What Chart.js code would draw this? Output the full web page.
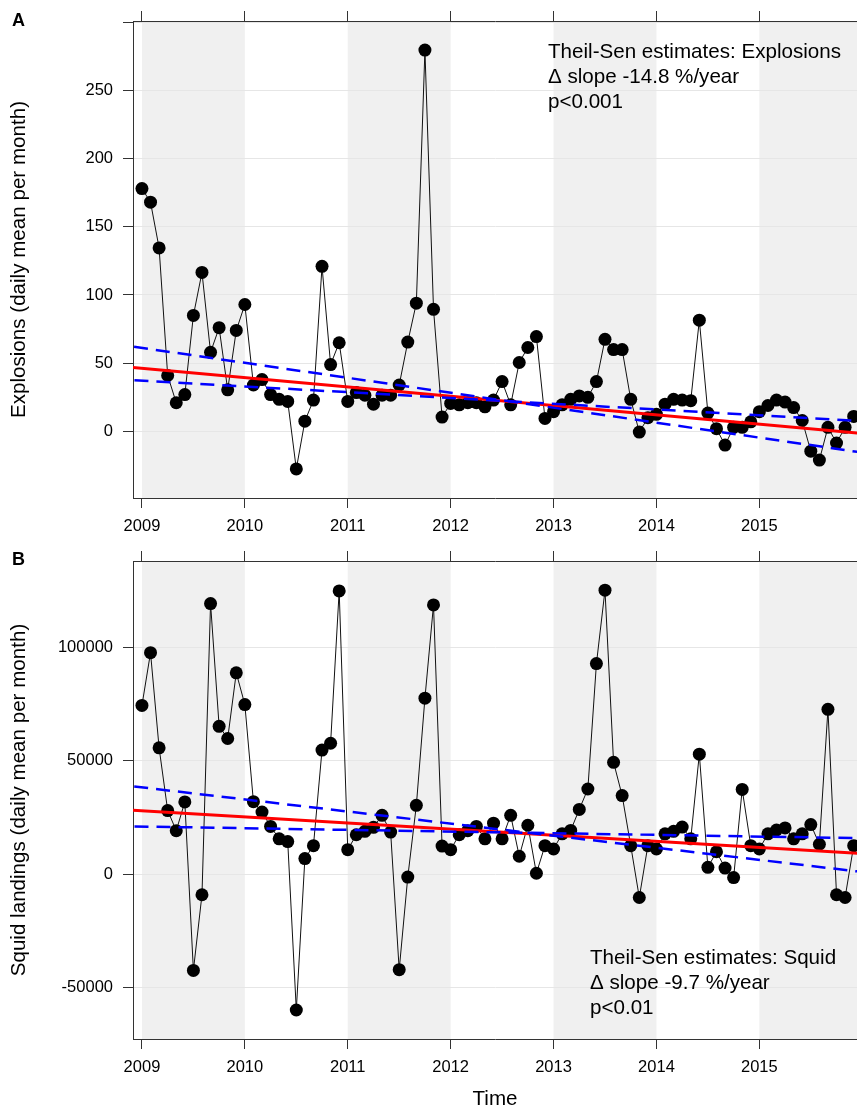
<!DOCTYPE html>
<html>
<head>
<meta charset="utf-8">
<title>Explosions and squid landings</title>
<script src="https://cdn.jsdelivr.net/npm/chart.js@4.4.1/dist/chart.umd.min.js"></script>
<style>
  html, body { margin: 0; padding: 0; background: #fff; }
  body { width: 857px; height: 1109px; position: relative; overflow: hidden; }
  canvas { position: absolute; left: 0; }
  #chartA { top: 0; }
  #chartB { top: 540px; }
</style>
</head>
<body>
<canvas id="chartA" width="857" height="540"></canvas>
<canvas id="chartB" width="857" height="572"></canvas>
<script>
// monthly series, Jan 2009 .. Dec 2015
const startYear = 2009;
const tickYears = [2009, 2010, 2011, 2012, 2013, 2014, 2015];
const shadedYears = [2009, 2011, 2013, 2015];

const explosions = [
  178, 168, 134.5, 41, 21, 27, 85, 116.5, 58, 76, 30.5, 74,
  93, 34, 38, 27, 23.5, 22, -27.5, 7.5, 23, 121, 49, 65,
  22, 28.5, 26.5, 20, 26.5, 26.5, 34, 65.5, 94, 279.5, 89.5, 10.5,
  20.5, 19.5, 21, 21, 18, 23, 36.5, 19.5, 50.5, 61.5, 69.5, 9.5,
  14.5, 19.5, 23.5, 26, 25, 36.5, 67.5, 60, 60, 23.5, -0.5, 10,
  12.5, 20, 23.5, 23, 22.5, 81.5, 13.5, 2, -10, 3, 3, 7,
  14.5, 19, 23, 21.5, 17.5, 8, -14.5, -21, 3, -8.5, 3, 11
];
const squid = [
  74500, 97800, 55800, 28100, 19200, 31900, -42500, -9100, 119500, 65300, 59900, 88900,
  74900, 32000, 27400, 21100, 15600, 14400, -60000, 6900, 12600, 54800, 57800, 125100,
  10800, 17400, 18900, 20700, 26000, 18600, -42200, -1300, 30400, 77700, 118900, 12400,
  10800, 17400, 19200, 21100, 15600, 22500, 15600, 26000, 7900, 21600, 400, 12600,
  11100, 17800, 19300, 28600, 37600, 93000, 125400, 49400, 34700, 12600, -10300, 12600,
  11100, 17800, 18900, 20800, 15600, 53000, 3000, 9900, 2700, -1500, 37400, 12600,
  11100, 17800, 19500, 20400, 15600, 17800, 21900, 13200, 72800, -9100, -10300, 12600
];

// Theil-Sen trend and slope interval lines, values at trendYears
const trendYears = [2008.5, 2016.5];
const explosionsTrend = [49.7, -5.0];
const explosionsSlopeLo = [66.7, -21.0];
const explosionsSlopeHi = [39.3, 5.5];
const squidTrend = [29300, 7700];
const squidSlopeLo = [41000, -1700];
const squidSlopeHi = [21400, 15500];

const explosionsTicks = [0, 50, 100, 150, 200, 250, 300];
const explosionsLabels = [0, 50, 100, 150, 200, 250];
const squidTicks = [-50000, 0, 50000, 100000];
const squidLabels = [-50000, 0, 50000, 100000];

const explosionsNote = ['Theil-Sen estimates: Explosions', '\u0394 slope -14.8 %/year', 'p<0.001'];
const squidNote = ['Theil-Sen estimates: Squid', '\u0394 slope -9.7 %/year', 'p<0.01'];

const FONT = '"Liberation Sans", Arial, sans-serif';
const AXIS = '#333333';

// grey band on every other year
const yearBands = {
  id: 'yearBands',
  beforeDraw(chart) {
    const { ctx, chartArea: a, scales: { x } } = chart;
    ctx.save();
    ctx.fillStyle = '#f0f0f0';
    shadedYears.forEach(y0 => {
      const x0 = Math.max(x.getPixelForValue(y0), a.left);
      const x1 = Math.min(x.getPixelForValue(y0 + 1), a.right);
      if (x1 > x0) ctx.fillRect(x0, a.top, x1 - x0, a.bottom - a.top);
    });
    ctx.restore();
  }
};

// panel letter and the estimates text
const panelText = {
  id: 'panelText',
  afterDraw(chart, args, opts) {
    const { ctx, chartArea: a } = chart;
    ctx.save();
    ctx.fillStyle = '#000';
    ctx.textBaseline = 'alphabetic';
    ctx.textAlign = 'left';
    ctx.font = 'bold 18px ' + FONT;
    ctx.fillText(opts.tag, 12, opts.tagY);
    ctx.font = '20.6px ' + FONT;
    opts.lines.forEach((t, i) => ctx.fillText(t, a.left + opts.dx, a.top + opts.dy + i * 25));
    ctx.restore();
  }
};

const line = (ys) => trendYears.map((x, i) => ({ x, y: ys[i] }));
const monthly = (vals) => vals.map((v, i) => ({ x: startYear + i / 12, y: v }));
const yearTicks = s => { s.ticks = tickYears.map(v => ({ value: v })); };

function makePanel(id, p) {
  const xScale = {
    type: 'linear', min: 2008.913, max: 2015.949,
    afterBuildTicks: yearTicks,
    grid: { drawOnChartArea: false, drawTicks: true, tickLength: 10, tickColor: AXIS, tickWidth: 1 },
    border: { display: true, color: AXIS, width: 1 }
  };

  return new Chart(document.getElementById(id), {
    type: 'line',
    data: {
      datasets: [
        { data: line(p.lo), borderColor: '#0000ff', borderWidth: 2.5, borderDash: [14, 8], pointRadius: 0, order: 0 },
        { data: line(p.hi), borderColor: '#0000ff', borderWidth: 2.5, borderDash: [14, 8], pointRadius: 0, order: 0 },
        { data: line(p.trend), borderColor: '#ff0000', borderWidth: 3, pointRadius: 0, order: 1 },
        { data: monthly(p.values), borderColor: '#111', borderWidth: 1, pointRadius: 6.5,
          pointBackgroundColor: '#000', pointBorderWidth: 0, pointHoverRadius: 6.5, order: 2 }
      ]
    },
    options: {
      responsive: false,
      animation: false,
      events: [],
      layout: { padding: 0, autoPadding: false },
      plugins: {
        legend: { display: false },
        tooltip: { enabled: false },
        panelText: { tag: p.tag, tagY: p.tagY, lines: p.note, dx: p.noteDx, dy: p.noteDy }
      },
      scales: {
        x: {
          ...xScale, position: 'bottom',
          afterFit: s => { s.height = p.bottomHeight; },
          ticks: { color: '#000', font: { family: FONT, size: 16.5 }, padding: 9, maxRotation: 0, autoSkip: false,
                   callback: v => String(v) },
          title: { display: !!p.xTitle, text: p.xTitle, color: '#000', font: { family: FONT, size: 20.6 },
                   padding: { top: 0, bottom: 0 } }
        },
        xTop: {
          ...xScale, position: 'top',
          afterFit: s => { s.height = 21; },
          ticks: { display: false }
        },
        y: {
          type: 'linear', position: 'left', min: p.yMin, max: p.yMax,
          afterBuildTicks: s => { s.ticks = p.yTicks.map(v => ({ value: v })); },
          afterFit: s => { s.width = 133; },
          grid: { color: '#e6e6e6', lineWidth: 1, tickColor: AXIS, tickLength: 10, tickWidth: 1 },
          border: { display: true, color: AXIS, width: 1 },
          ticks: { color: '#000', font: { family: FONT, size: 16.5 }, padding: 10,
                   callback: v => p.yLabels.includes(v) ? String(v) : '' },
          title: { display: true, text: p.yTitle, color: '#000', font: { family: FONT, size: 20.6 },
                   padding: { top: 7, bottom: 0 } }
        }
      }
    },
    plugins: [yearBands, panelText]
  });
}

makePanel('chartA', {
  tag: 'A', tagY: 26,
  values: explosions, trend: explosionsTrend, lo: explosionsSlopeLo, hi: explosionsSlopeHi,
  yMin: -48.8, yMax: 300.8, yTicks: explosionsTicks, yLabels: explosionsLabels,
  yTitle: 'Explosions (daily mean per month)',
  note: explosionsNote, noteDx: 415, noteDy: 37,
  bottomHeight: 42
});

makePanel('chartB', {
  tag: 'B', tagY: 25,
  values: squid, trend: squidTrend, lo: squidSlopeLo, hi: squidSlopeHi,
  yMin: -72800, yMax: 138300, yTicks: squidTicks, yLabels: squidLabels,
  yTitle: 'Squid landings (daily mean per month)',
  xTitle: 'Time',
  note: squidNote, noteDx: 457, noteDy: 403,
  bottomHeight: 73
});
</script>
</body>
</html>
